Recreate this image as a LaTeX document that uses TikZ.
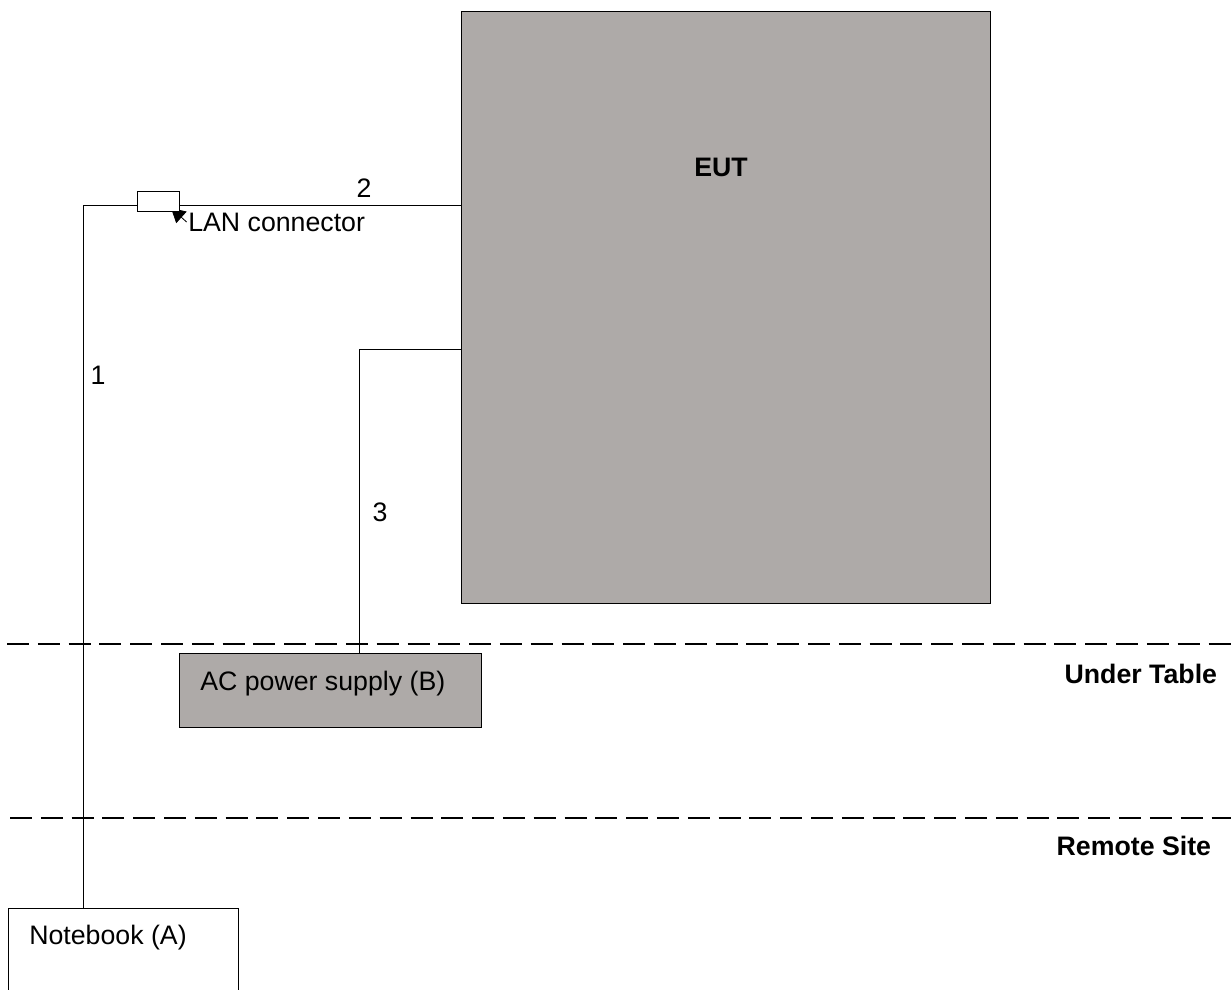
\documentclass[tikz,border=0pt]{standalone}
\usepackage{fontspec}
\setmainfont{Liberation Sans}
\usepackage{xcolor}
\usetikzlibrary{positioning, arrows.meta}
\definecolor{unitG}{HTML}{AEAAA8}
\begin{document}
\begin{tikzpicture}[x=0.025cm, y=-0.025cm, font=\fontsize{19}{22}\selectfont,
    unitbox/.style={draw, line width=0.8pt, inner sep=0pt, anchor=north west},
    cable/.style={line width=0.7pt},
    zoneline/.style={dash pattern=on 0.55cm off 0.22cm, line width=1.7pt},
    zonelbl/.style={font=\fontsize{19}{22}\selectfont\bfseries, anchor=east}]
  % frame of the page
  \useasboundingbox (0,0) rectangle (1231,990);
  \clip (0,0) rectangle (1231,990);
  % units
  \node[unitbox, fill=unitG, minimum width=13.225cm, minimum height=14.8cm] (eut) at (461,11) {};
  \node[font=\fontsize{19}{22}\selectfont\bfseries] (eutlbl) at (721,167) {EUT};
  \node[unitbox, fill=unitG, minimum width=7.55cm, minimum height=1.85cm] (acps) at (179,653) {};
  \node[anchor=west, inner sep=0pt] (acpslbl) at (200,684) {AC power supply (B)};
  \node[unitbox, fill=white, minimum width=5.75cm, minimum height=4cm] (nb) at (8,908) {};
  \node[anchor=west, inner sep=0pt] (nblbl) at (29,938) {Notebook (A)};
  % cables
  \coordinate (c1) at (83,205);
  \coordinate (c3) at (359,349);
  \draw[cable] (eut.west |- c1) -- (c1) -- (c1 |- nb.north);
  \draw[cable] (eut.west |- c3) -- (c3) -- (c3 |- acps.north);
  % LAN connector (tip hidden under the box, as in the drawing)
  \node[anchor=west, inner sep=0pt] (lanlbl) at (188,222) {LAN connector};
  \coordinate (lantip) at (171,208);
  \draw[-{Triangle[length=10pt, width=11pt]}, line width=0.6pt] ([xshift=-1pt]lanlbl.west) -- (lantip);
  \node[unitbox, fill=white, minimum width=1.05cm, minimum height=0.5cm] (lan) at (137,191) {};
  % cable numbers
  \node (n1) at (98,375) {1};
  \node (n2) at (364,188) {2};
  \node (n3) at (380,512) {3};
  % zones
  \coordinate (z1) at (7,644);
  \coordinate (z2) at (10,818);
  \draw[zoneline] (z1) -- (1231,644);
  \draw[zoneline] (z2) -- (1231,818);
  \node[zonelbl] (ut) at (1222,674) {Under Table};
  \node[zonelbl] (rs) at (1216,846) {Remote Site};
\end{tikzpicture}
\end{document}
